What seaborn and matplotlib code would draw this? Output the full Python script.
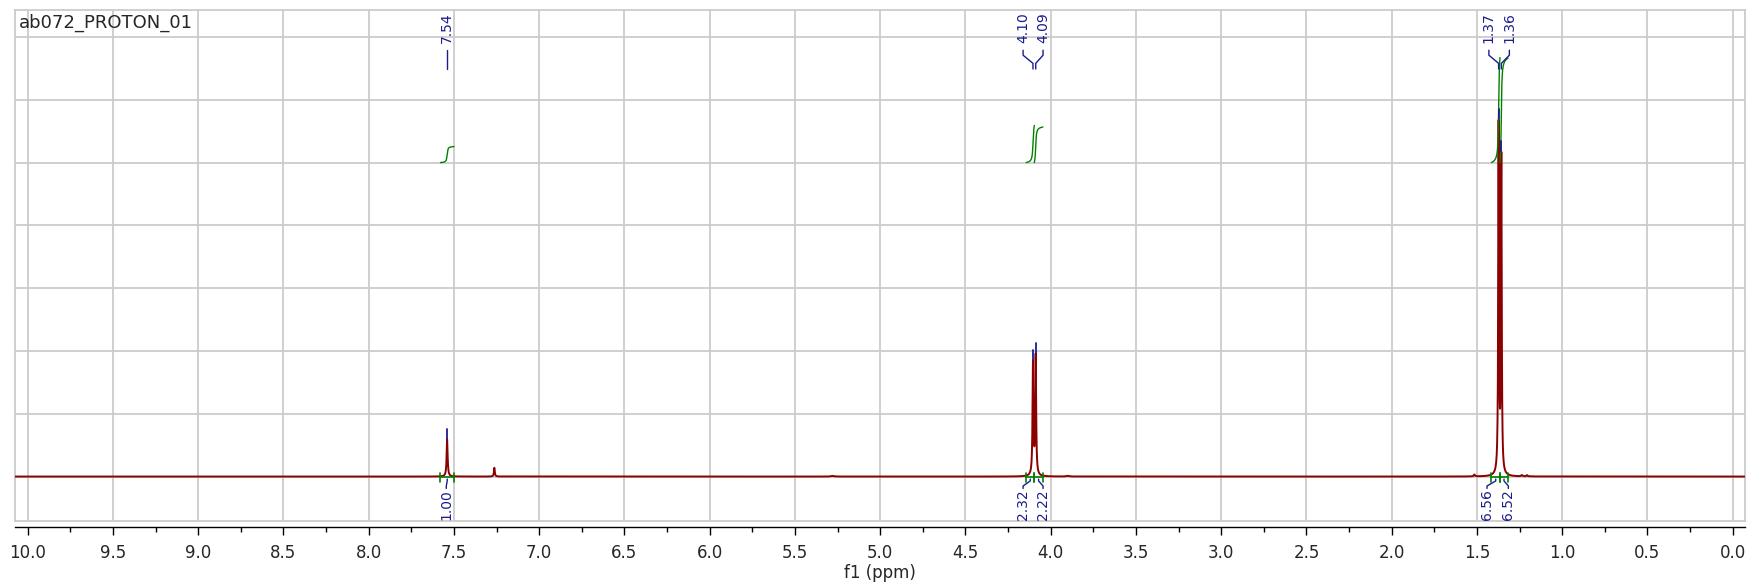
import matplotlib
matplotlib.use("Agg")
import matplotlib.pyplot as plt
from matplotlib.ticker import MultipleLocator
import seaborn as sns
import numpy as np
import pandas as pd

# Peaks: position (ppm), height (grid units), half width (ppm)
peak_ppm = [7.540, 7.263, 4.104, 4.088, 1.373, 1.357, 1.515, 1.237, 1.206, 5.280, 3.900]
peak_height = [0.59, 0.14, 1.78, 1.90, 5.55, 5.02, 0.03, 0.02, 0.02, 0.01, 0.01]
peak_width = [0.0035, 0.003, 0.0031, 0.0031, 0.0027, 0.0027, 0.004, 0.004, 0.004, 0.01, 0.01]

# Peak picking labels
pick_label = ["7.54", "4.10", "4.09", "1.37", "1.36"]
pick_ppm = [7.540, 4.104, 4.088, 1.373, 1.357]
pick_text_ppm = [7.540, 4.162, 4.045, 1.430, 1.310]

# Integrals
int_start = [7.579, 4.144, 4.096, 1.415, 1.365]
int_end = [7.500, 4.096, 4.046, 1.365, 1.318]
int_value = [1.00, 2.32, 2.22, 6.56, 6.52]
int_text_ppm = [7.545, 4.162, 4.045, 1.441, 1.316]

title = "ab072_PROTON_01"

RED = "#8B0000"
GREEN = "#008000"
BLUE = "#1C1C8C"
GRID = "#CBCBCB"


def spectrum(x):
    y = np.zeros_like(x)
    for p, h, w in zip(peak_ppm, peak_height, peak_width):
        y += h / (1 + ((x - p) / w) ** 2)
    return y


sns.set_style("whitegrid")
plt.rcParams["font.family"] = ["DejaVu Sans"]

fig = plt.figure(figsize=(17.51, 5.84), dpi=100)
ax = fig.add_axes([15 / 1751, 1 - 520.5 / 584, 1730 / 1751, 510.5 / 584])

ppm = np.linspace(-0.1, 10.1, 40001)
df = pd.DataFrame({"ppm": ppm, "intensity": spectrum(ppm)})
sns.lineplot(data=df, x="ppm", y="intensity", color=RED, lw=1.4,
             sort=False, estimator=None, ax=ax, zorder=3)

# integral curves and brackets
for s, e, v, tx in zip(int_start, int_end, int_value, int_text_ppm):
    xs = np.linspace(s, e, 600)
    cum = np.cumsum(spectrum(xs))
    cum = (cum - cum[0]) / (cum[-1] - cum[0])
    idf = pd.DataFrame({"ppm": xs, "integral": 5.0 + cum * v * 0.255})
    sns.lineplot(data=idf, x="ppm", y="integral", color=GREEN, lw=1.0,
                 sort=False, estimator=None, ax=ax, zorder=4)
    ax.plot([s, e], [0, 0], color=GREEN, lw=1.2, zorder=5)
    for xe in (s, e):
        ax.plot([xe, xe], [0.05, -0.08], color=GREEN, lw=1.2, zorder=5)
    c = (s + e) / 2
    ax.plot([c, c, tx, tx], [-0.04, -0.07, -0.15, -0.19], color=BLUE, lw=1.0, zorder=5)
    ax.text(tx, -0.2, f"{v:.2f}", rotation=90, ha="center", va="top",
            color=BLUE, fontsize=10)

# peak picking labels
for lab, p, tx in zip(pick_label, pick_ppm, pick_text_ppm):
    top = spectrum(np.array([p]))[0]
    ax.plot([p, p], [top + 0.01, top + 0.17], color=BLUE, lw=1.3, zorder=5)
    ax.plot([tx, tx, p, p], [6.79, 6.71, 6.58, 6.49], color=BLUE, lw=1.0, zorder=5)
    ax.text(tx, 6.9, lab, rotation=90, ha="center", va="bottom",
            color=BLUE, fontsize=10)

ax.text(0.002, 0.992, title, transform=ax.transAxes, ha="left", va="top", fontsize=13)

ax.set_xlim(10.0745, -0.072)
ax.set_ylim(-0.70, 7.43)
ax.set_xticks(np.arange(0, 10.01, 0.5))
ax.set_xticklabels([f"{t:.1f}" for t in np.arange(0, 10.01, 0.5)])
ax.xaxis.set_minor_locator(MultipleLocator(0.25))
ax.set_yticks(range(8))
ax.grid(True, which="major", color=GRID, lw=1.3)
ax.set_axisbelow(True)
ax.tick_params(axis="y", length=0, labelleft=False)
ax.tick_params(axis="x", which="major", bottom=True, length=5.8, width=1.0,
               color="black", direction="out", labelsize=12, pad=6)
ax.tick_params(axis="x", which="minor", bottom=True, length=3.3, width=1.0,
               color="black", direction="out")

for side in ["top", "left", "right"]:
    ax.spines[side].set_color(GRID)
    ax.spines[side].set_linewidth(1.3)
ax.spines["bottom"].set_color("black")
ax.spines["bottom"].set_linewidth(1.0)
ax.spines["bottom"].set_position(("outward", 5.0))
ax.plot([0, 1], [0, 0], transform=ax.transAxes, color=GRID, lw=1.3, clip_on=False)

ax.set_xlabel("f1 (ppm)", fontsize=12, labelpad=1.5)
ax.set_ylabel("")

fig.savefig("out.png", dpi=100)
